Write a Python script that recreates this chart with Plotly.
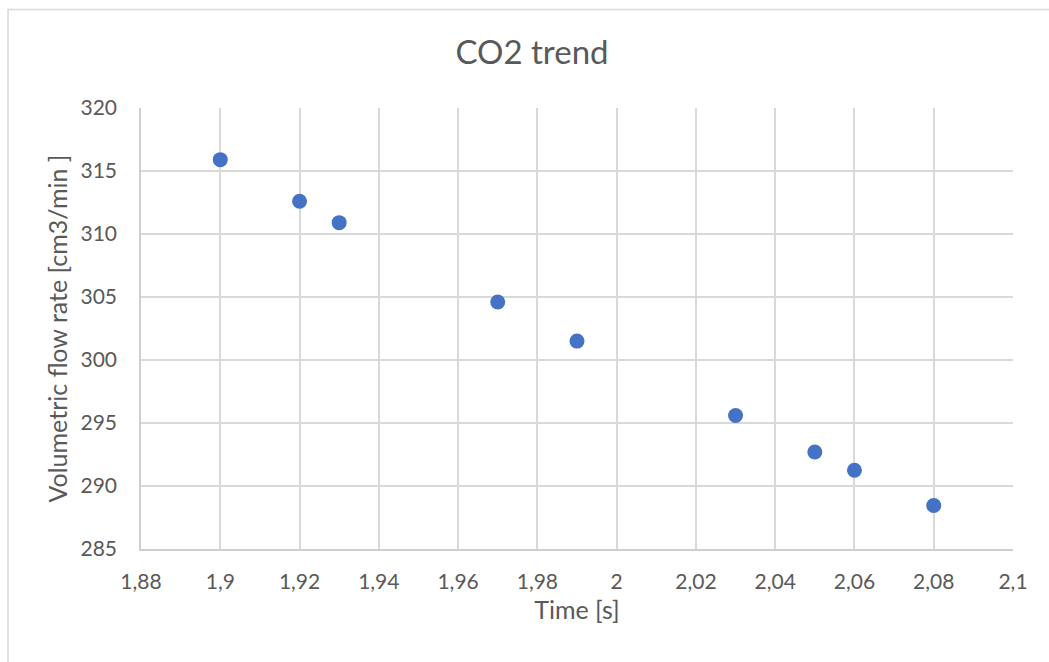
import plotly.graph_objects as go

# CO2 flow measurements
time_s = [1.90, 1.92, 1.93, 1.97, 1.99, 2.03, 2.05, 2.06, 2.08]
flow_cm3_min = [315.9, 312.6, 310.9, 304.6, 301.5, 295.6, 292.7, 291.25, 288.45]

W, H = 1049, 662
ML, MR, MT, MB = 141, 36, 108, 113
pw, ph = W - ML - MR, H - MT - MB

fig = go.Figure(
    go.Scatter(
        x=time_s,
        y=flow_cm3_min,
        mode="markers",
        marker=dict(size=15, color="#4472C4", line=dict(width=0)),
        showlegend=False,
    )
)

font_family = "Lato, 'Open Sans', sans-serif"
grey = "#595959"

fig.update_layout(
    width=W,
    height=H,
    margin=dict(l=ML, r=MR, t=MT, b=MB),
    paper_bgcolor="white",
    plot_bgcolor="white",
    separators=",.",
    font=dict(family=font_family, color=grey),
    title=dict(
        text="CO2 trend",
        x=532 / W,
        xanchor="center",
        y=1 - 52 / H,
        yanchor="middle",
        font=dict(size=33, color=grey, family=font_family),
    ),
    xaxis=dict(
        range=[1.88, 2.1],
        dtick=0.02,
        tick0=1.88,
        showgrid=True,
        gridcolor="#d9d9d9",
        gridwidth=1.5,
        zeroline=False,
        showline=True,
        linecolor="#cfcfcf",
        linewidth=1.5,
        ticks="",
        ticklabelstandoff=13,
        tickfont=dict(size=21, color=grey),
        title=dict(text="Time [s]", font=dict(size=25, color=grey), standoff=10),
    ),
    yaxis=dict(
        range=[285, 320],
        dtick=5,
        showgrid=True,
        gridcolor="#d9d9d9",
        gridwidth=1.5,
        zeroline=False,
        showline=True,
        linecolor="#cfcfcf",
        linewidth=1.5,
        ticks="",
        ticklabelstandoff=18,
        tickfont=dict(size=21, color=grey),
        title=dict(
            text="Volumetric flow rate [cm3/min ]",
            font=dict(size=25, color=grey),
            standoff=6,
        ),
    ),
)

# Chart-area frame (left and top edges visible in the canvas)
bx = (8 - ML) / pw
by = 1 + (MT - 9.5) / ph
fig.add_shape(
    type="rect",
    xref="paper",
    yref="paper",
    x0=bx,
    y0=-0.4,
    x1=1.3,
    y1=by,
    line=dict(color="#d9d9d9", width=1.5),
    fillcolor="rgba(0,0,0,0)",
    layer="below",
)

fig.write_html("out.html")
